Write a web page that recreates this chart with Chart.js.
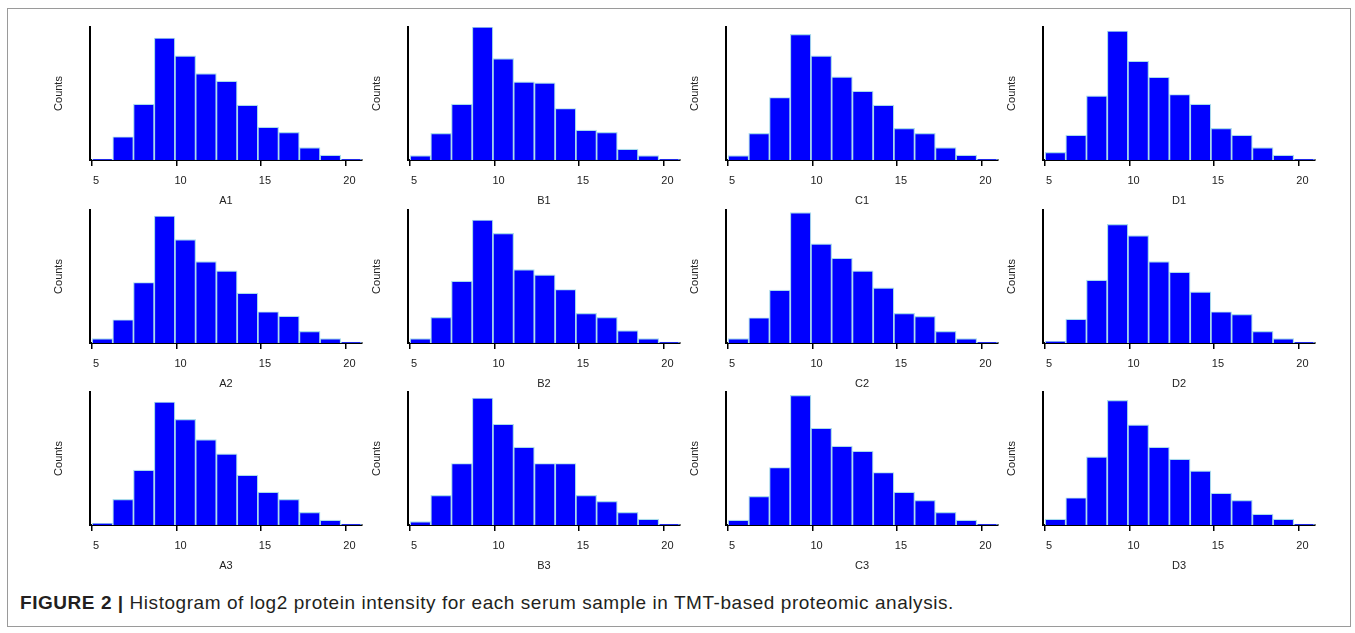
<!DOCTYPE html>
<html>
<head>
<meta charset="utf-8">
<script src="https://cdn.jsdelivr.net/npm/chart.js@4.4.1/dist/chart.umd.min.js"></script>
<style>
  html, body { margin: 0; padding: 0; background: #fff; }
  body { width: 1355px; height: 633px; position: relative; overflow: hidden; }
  #moldura {
    position: absolute; left: 7px; top: 8px; width: 1344px; height: 619px;
    border: 1px solid #9a9a9a; box-sizing: border-box;
  }
  canvas.painel { position: absolute; }
  #legenda {
    position: absolute; left: 20px; top: 592px;
    font-family: "Liberation Sans", Arial, sans-serif; font-size: 19px; color: #231f20;
    letter-spacing: 0.55px; white-space: nowrap;
  }
  #legenda b { font-weight: bold; }
</style>
</head>
<body>
<div id="moldura"></div>
<div id="legenda"><b>FIGURE 2 |</b> Histogram of log2 protein intensity for each serum sample in TMT-based proteomic analysis.</div>

<script>
// limites dos bins (log2 intensidade)
const limitesBins = [5.0, 6.23, 7.45, 8.68, 9.91, 11.13, 12.36, 13.59, 14.82, 16.04, 17.27, 18.5, 19.72, 20.95];
const ticksX = [5, 10, 15, 20];

const amostras = ["A1", "B1", "C1", "D1", "A2", "B2", "C2", "D2", "A3", "B3", "C3", "D3"];

// contagens por bin
const contA1 = [3, 70, 168, 367, 313, 260, 237, 165, 99, 83, 37, 15, 3];
const contB1 = [13, 80, 168, 400, 305, 235, 232, 155, 90, 83, 33, 13, 3];
const contC1 = [13, 80, 188, 378, 313, 250, 207, 165, 95, 80, 37, 15, 3];
const contD1 = [23, 75, 193, 388, 297, 249, 197, 168, 95, 75, 37, 15, 3];
const contA2 = [13, 70, 182, 382, 311, 245, 217, 150, 94, 81, 35, 13, 3];
const contB2 = [13, 77, 186, 370, 330, 221, 205, 161, 89, 77, 37, 13, 3];
const contC2 = [13, 76, 159, 392, 298, 255, 217, 166, 89, 80, 35, 13, 3];
const contD2 = [5, 72, 189, 357, 323, 245, 213, 154, 94, 86, 35, 13, 3];
const contA3 = [5, 77, 165, 370, 318, 257, 214, 150, 99, 77, 38, 15, 3];
const contB3 = [10, 89, 185, 382, 303, 234, 185, 185, 89, 71, 38, 18, 3];
const contC3 = [15, 86, 173, 390, 291, 237, 222, 158, 99, 74, 38, 15, 3];
const contD3 = [18, 82, 205, 375, 301, 234, 198, 163, 96, 74, 33, 18, 3];

const contagens = [contA1, contB1, contC1, contD1, contA2, contB2, contC2, contD2, contA3, contB3, contC3, contD3];

// posicao dos eixos de cada painel na pagina
const eixoX = [90, 407.5, 725.5, 1043];
const eixoTopo = [27, 209.5, 392];
const larguraArea = 272;
const alturaArea = 133;
const largEixoY = 55;
const altEixoX = 50;
const padTopo = 10;
const padDir = 8;

const centros = limitesBins.slice(0, -1).map((v, i) => (v + limitesBins[i + 1]) / 2);

const fonte = { family: "'Liberation Sans', Arial, sans-serif", size: 11 };

function criarPainel(idx) {
  const col = idx % 4;
  const lin = Math.floor(idx / 4);
  const cv = document.createElement("canvas");
  cv.className = "painel";
  cv.width = largEixoY + larguraArea + padDir;
  cv.height = padTopo + alturaArea + altEixoX;
  cv.style.left = (eixoX[col] - largEixoY) + "px";
  cv.style.top = (eixoTopo[lin] - padTopo) + "px";
  document.body.appendChild(cv);

  const dados = centros.map((x, i) => ({ x, y: contagens[idx][i] }));

  new Chart(cv, {
    type: "bar",
    data: {
      datasets: [{
        label: amostras[idx],
        data: dados,
        backgroundColor: "#0000ff",
        borderColor: "#a9dbeb",
        borderWidth: 1.2,
        barPercentage: 1,
        categoryPercentage: 1
      }]
    },
    options: {
      responsive: false,
      animation: false,
      devicePixelRatio: 1,
      layout: { padding: { left: 0, top: padTopo, right: padDir, bottom: 0 } },
      plugins: { legend: { display: false }, tooltip: { enabled: false } },
      scales: {
        x: {
          type: "linear",
          min: 4.88,
          max: 20.98,
          offset: false,
          z: 1,
          afterBuildTicks: (s) => { s.ticks = ticksX.map(v => ({ value: v })); },
          afterFit: (s) => { s.height = altEixoX; },
          ticks: { color: "#222", font: fonte, padding: 8, labelOffset: 4, maxRotation: 0, autoSkip: false },
          grid: { offset: false, drawOnChartArea: false, drawTicks: true, tickLength: 6, color: "#000", lineWidth: 1.5 },
          border: { display: true, color: "#000", width: 2 },
          title: { display: true, text: amostras[idx], color: "#222", font: fonte, padding: { top: 4, bottom: 2 } }
        },
        y: {
          min: 0,
          max: 400,
          afterFit: (s) => { s.width = largEixoY; },
          ticks: { display: false },
          grid: { display: false },
          border: { display: true, color: "#000", width: 2 },
          title: { display: true, text: "Counts", color: "#222", font: fonte, padding: 17 }
        }
      }
    }
  });
}

amostras.forEach((_, i) => criarPainel(i));
</script>
</body>
</html>
